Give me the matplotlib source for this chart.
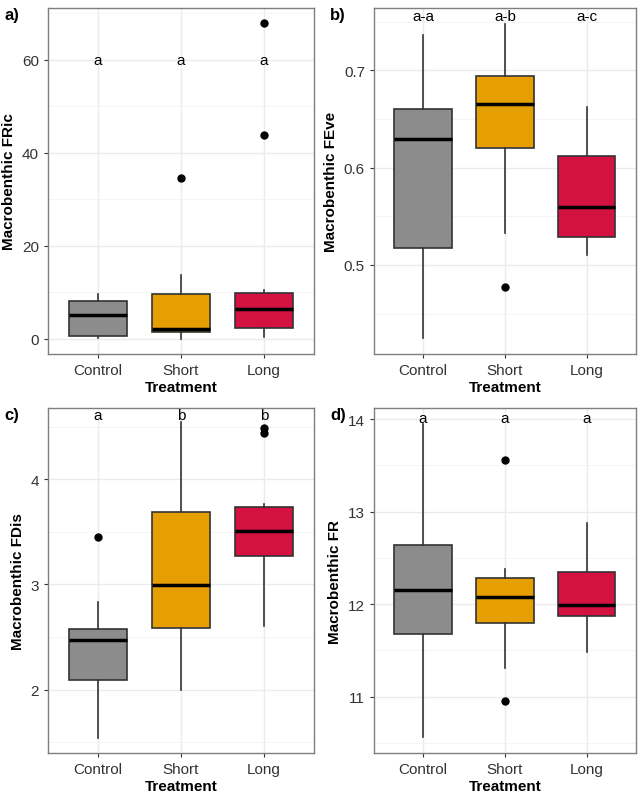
import matplotlib.pyplot as plt
import numpy as np

plt.rcParams['font.family'] = ['Liberation Sans', 'DejaVu Sans']

treatments = ['Control', 'Short', 'Long']
colors = ['#8C8C8C', '#E69F00', '#D31242']

# box stats: whislo, q1, median, q3, whishi, outliers
fric_lo = [0.1, 0.0, 0.4]
fric_q1 = [0.65, 1.5, 2.3]
fric_med = [5.0, 2.1, 6.45]
fric_q3 = [8.0, 9.55, 9.9]
fric_hi = [9.5, 13.7, 10.4]
fric_out = [[], [34.6], [43.8, 67.8]]
fric_letters = ['a', 'a', 'a']

feve_lo = [0.425, 0.533, 0.510]
feve_q1 = [0.517, 0.620, 0.529]
feve_med = [0.629, 0.665, 0.559]
feve_q3 = [0.660, 0.694, 0.612]
feve_hi = [0.736, 0.748, 0.662]
feve_out = [[], [0.477], []]
feve_letters = ['a-a', 'a-b', 'a-c']

fdis_lo = [1.54, 2.0, 2.6]
fdis_q1 = [2.09, 2.585, 3.27]
fdis_med = [2.47, 2.99, 3.51]
fdis_q3 = [2.575, 3.69, 3.74]
fdis_hi = [2.83, 4.54, 3.76]
fdis_out = [[3.45], [], [4.44, 4.49]]
fdis_letters = ['a', 'b', 'b']

fr_lo = [10.56, 11.31, 11.48]
fr_q1 = [11.68, 11.80, 11.87]
fr_med = [12.15, 12.08, 11.99]
fr_q3 = [12.635, 12.28, 12.35]
fr_hi = [13.95, 12.38, 12.88]
fr_out = [[], [10.95, 13.56], []]
fr_letters = ['a', 'a', 'a']

panels = [
    dict(tag='a)', ylabel='Macrobenthic FRic', lo=fric_lo, q1=fric_q1, med=fric_med, q3=fric_q3, hi=fric_hi,
         out=fric_out, letters=fric_letters, ly=60, ylim=(-3.3, 71.1), major=[0, 20, 40, 60], minor=[10, 30, 50, 70],
         fmt='{:.0f}', rect=[0.0745, 0.5579, 0.413, 0.4309]),
    dict(tag='b)', ylabel='Macrobenthic FEve', lo=feve_lo, q1=feve_q1, med=feve_med, q3=feve_q3, hi=feve_hi,
         out=feve_out, letters=feve_letters, ly=0.7556, ylim=(0.4084, 0.764), major=[0.5, 0.6, 0.7],
         minor=[0.45, 0.55, 0.65, 0.75], fmt='{:.1f}', rect=[0.5807, 0.5579, 0.4068, 0.4309]),
    dict(tag='c)', ylabel='Macrobenthic FDis', lo=fdis_lo, q1=fdis_q1, med=fdis_med, q3=fdis_q3, hi=fdis_hi,
         out=fdis_out, letters=fdis_letters, ly=4.606, ylim=(1.397, 4.676), major=[2, 3, 4],
         minor=[1.5, 2.5, 3.5, 4.5], fmt='{:.0f}', rect=[0.0745, 0.0610, 0.413, 0.4296]),
    dict(tag='d)', ylabel='Macrobenthic FR', lo=fr_lo, q1=fr_q1, med=fr_med, q3=fr_q3, hi=fr_hi,
         out=fr_out, letters=fr_letters, ly=14.01, ylim=(10.39, 14.12), major=[11, 12, 13, 14],
         minor=[10.5, 11.5, 12.5, 13.5], fmt='{:.0f}', rect=[0.5807, 0.0610, 0.4068, 0.4296]),
]

fig = plt.figure(figsize=(6.44, 8.03), dpi=100)

for p in panels:
    ax = fig.add_axes(p['rect'])
    stats = []
    for i in range(3):
        stats.append(dict(whislo=p['lo'][i], q1=p['q1'][i], med=p['med'][i], q3=p['q3'][i],
                          whishi=p['hi'][i], fliers=p['out'][i]))
    bp = ax.bxp(stats, positions=[1, 2, 3], widths=0.7, patch_artist=True, showcaps=False,
                boxprops=dict(edgecolor='#333333', linewidth=1.2),
                medianprops=dict(color='black', linewidth=2.5, solid_capstyle='butt'),
                whiskerprops=dict(color='#333333', linewidth=1.2),
                flierprops=dict(marker='o', markerfacecolor='black', markeredgecolor='black', markersize=5))
    for patch, c in zip(bp['boxes'], colors):
        patch.set_facecolor(c)
    for i, lab in enumerate(p['letters']):
        ax.text(i + 1, p['ly'], lab, ha='center', va='center', fontsize=11, color='black')

    ax.set_xlim(0.4, 3.6)
    ax.set_ylim(*p['ylim'])
    ax.set_xticks([1, 2, 3])
    ax.set_xticklabels(treatments)
    ax.set_yticks(p['major'])
    ax.set_yticklabels([p['fmt'].format(v) for v in p['major']])
    ax.set_yticks(p['minor'], minor=True)
    ax.set_axisbelow(True)
    ax.grid(True, which='major', color='#EBEBEB', linewidth=1.0)
    ax.grid(True, which='minor', axis='y', color='#F2F2F2', linewidth=0.6)
    ax.tick_params(which='major', labelsize=11, labelcolor='#333333', color='#333333', length=3, width=0.8)
    ax.tick_params(which='minor', length=0)
    for s in ax.spines.values():
        s.set_color('#7F7F7F')
        s.set_linewidth(1.0)
    ax.set_xlabel('Treatment', fontsize=11, fontweight='bold', labelpad=2)
    ax.set_ylabel(p['ylabel'], fontsize=11, fontweight='bold', labelpad=4)
    x0 = p['rect'][0]
    fig.text(x0 - 0.068, p['rect'][1] + p['rect'][3] - 0.008, p['tag'], fontsize=12, fontweight='bold',
             ha='left', va='center')

fig.savefig('out.png', dpi=100)
